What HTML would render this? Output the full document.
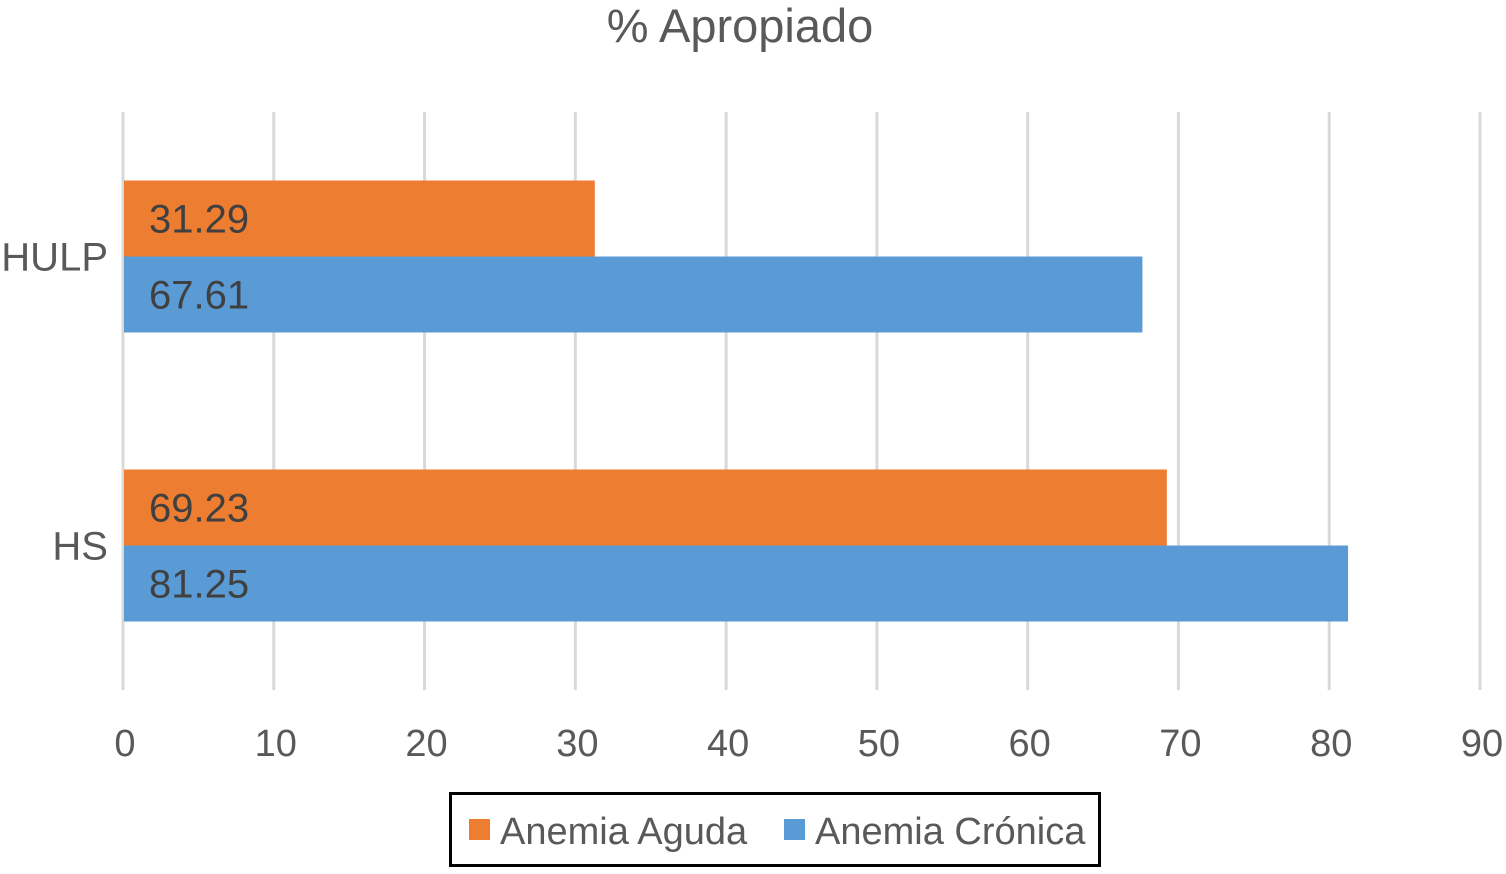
<!DOCTYPE html>
<html><head><meta charset="utf-8"><style>
html,body{margin:0;padding:0;background:#fff}
svg text{font-family:"Liberation Sans",sans-serif}
</style></head><body>
<svg id="chart" width="1506" height="869" viewBox="0 0 1506 869" xmlns="http://www.w3.org/2000/svg">
<text x="740" y="42" text-anchor="middle" font-size="47" fill="#595959">% Apropiado</text>
<g id="grid"></g>
<g id="bars"></g>
<g id="labels"></g>
<g>
<rect x="450.5" y="793.5" width="649" height="72" fill="#fff" stroke="#000" stroke-width="3"/>
<g>
<rect x="469" y="819" width="21" height="21" fill="#ED7D31"/>
<text x="500" y="844" font-size="38" fill="#595959">Anemia Aguda</text></g>
<g>
<rect x="784" y="819" width="21" height="21" fill="#5B9BD5"/>
<text x="815" y="844" font-size="38" fill="#595959">Anemia Crónica</text></g>
</g>
</svg>
<script>
const categories=["HULP","HS"];
const aguda=[31.29,69.23];
const cronica=[67.61,81.25];
const ticks=[0,10,20,30,40,50,60,70,80,90];
const NS="http://www.w3.org/2000/svg";
const x0=123,x1=1480,yTop=112,yBot=690;
const xs=v=>x0+(v/90)*(x1-x0);
const band=(yBot-yTop)/categories.length;
function mk(t,a,p){const e=document.createElementNS(NS,t);for(const k in a)e.setAttribute(k,a[k]);document.getElementById(p).appendChild(e);return e;}
ticks.forEach(t=>{
 const l=mk('line',{x1:xs(t),x2:xs(t),y1:yTop,y2:yBot,stroke:'#d9d9d9','stroke-width':3},'grid');
 
 
 const tx=mk('text',{x:xs(t)+2,y:756,'text-anchor':'middle','font-size':38,fill:'#595959'},'labels');
 tx.textContent=t;
 
 
});
const bh=76;
categories.forEach((c,i)=>{
 const cy=yTop+band*i+band/2;
 const ct=mk('text',{x:108,y:cy+14,'text-anchor':'end','font-size':40,fill:'#595959'},'labels');
 ct.textContent=c;
 
 
 [[aguda[i],'#ED7D31',cy-bh,'aguda'],[cronica[i],'#5B9BD5',cy,'cronica']].forEach(([v,col,y,s])=>{
  const r=mk('rect',{x:xs(0)+1,y:y,width:xs(v)-xs(0)-1,height:bh,fill:col},'bars');
  
  
  const t=mk('text',{x:149,y:y+bh/2+14,'font-size':40,fill:'#404040'},'labels');
  t.textContent=v.toFixed(2);
  
  
 });
});
</script>
</body></html>
